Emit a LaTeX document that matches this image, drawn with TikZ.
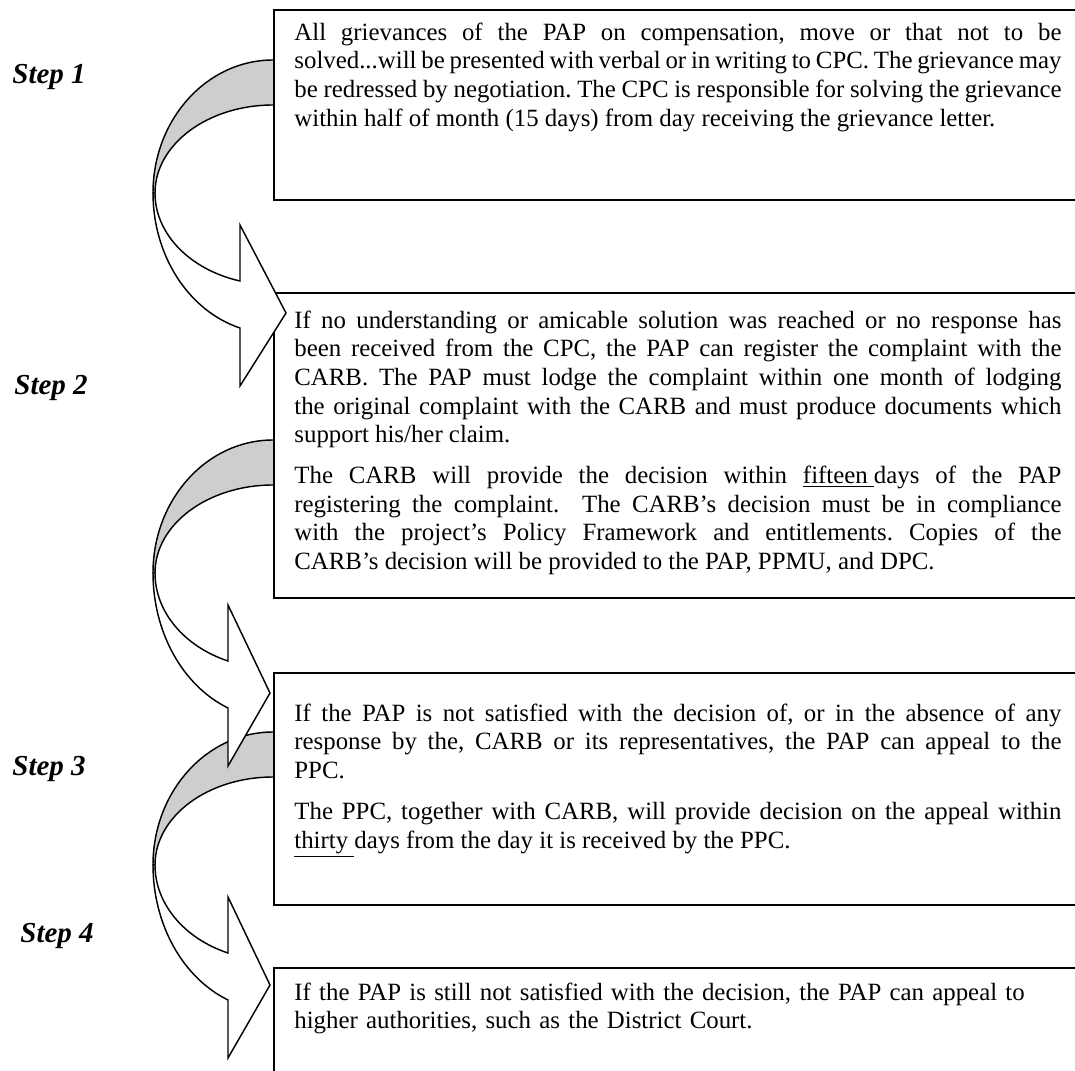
\documentclass[tikz,border=0pt]{standalone}
\usepackage{fontspec}
\setmainfont{Liberation Serif}
\definecolor{backgray}{RGB}{206,206,206}
\frenchspacing
% curved arrow: #1 = y of left turning point, #2 = x of head back, #3 = x of tip
\newcommand{\bentarrow}[3]{%
  \pgfmathsetmacro\outang{360-acos((#2-273)/120)}%
  \pgfmathsetmacro\outrad{135/sin(acos((#2-273)/120))}%
  \pgfmathsetmacro\inang{360-acos((#2-273)/118)}%
  \pgfmathsetmacro\inrad{88/sin(acos((#2-273)/118))}%
  \filldraw[backface] (300,-#1+133) -- (273,-#1+133)
    arc[start angle=90,end angle=180,x radius=120,y radius=133] -- (155,-#1)
    arc[start angle=180,end angle=90,x radius=118,y radius=88] -- (300,-#1+88) -- cycle;
  \filldraw[frontface] (153,-#1)
    arc[start angle=180,end angle=\outang,x radius=120,y radius=\outrad]
    -- (#2,-#1-193) -- (#3,-#1-120) -- (#2,-#1-32) -- (#2,-#1-88)
    arc[start angle=\inang,end angle=180,x radius=118,y radius=\inrad] -- cycle;
}
\tikzset{
  boxline/.style={draw,fill=white,line width=0.8pt},
  backface/.style={draw,fill=backgray,line width=0.7pt},
  frontface/.style={draw,fill=white,line width=0.7pt},
  boxtext/.style={anchor=north west,inner sep=0pt,text width=370.5pt,align=justify,
    font=\fontsize{12}{13.8}\selectfont\sloppy},
  steplabel/.style={anchor=base west,inner sep=0pt,font=\fontsize{14}{16}\selectfont\bfseries\itshape}
}

\begin{document}
\begin{tikzpicture}[x=0.483pt,y=0.483pt]
  \useasboundingbox (0,0) rectangle (1075,-1071);
  \clip (0,0) rectangle (1075,-1071);
  % boxes and arrows, back to front
  \draw[boxline] (274,-968) rectangle (1090,-1090);
  \bentarrow{865}{228}{270}
  \draw[boxline] (274,-673) rectangle (1090,-905);
  \bentarrow{573}{228}{270}
  \draw[boxline] (274,-293) rectangle (1090,-598);
  \bentarrow{193}{240}{286}
  \draw[boxline] (274,-10) rectangle (1090,-200);
  % texts
  \node[boxtext] (txt1) at (294,-20) {\strut All grievances of the PAP on compensation, move or that not to be\linebreak
    solved...will be presented with verbal or in writing to CPC. The grievance may\linebreak
    be redressed by negotiation. The CPC is responsible for solving the grievance\linebreak
    within half of month (15 days) from day receiving the grievance letter.};
  \node[boxtext] (txt2) at (294,-308) {\strut If no understanding or amicable solution was reached or no response has\linebreak
    been received from the CPC, the PAP can register the complaint with the\linebreak
    CARB. The PAP must lodge the complaint within one month of lodging\linebreak
    the original complaint with the CARB and must produce documents which\linebreak
    support his/her claim.\par\vspace{6pt}
    The CARB will provide the decision within \underline{fifteen\ }days of the PAP\linebreak
    registering the complaint.\ \ The CARB’s decision must be in compliance\linebreak
    with the project’s Policy Framework and entitlements. Copies of the\linebreak
    CARB’s decision will be provided to the PAP, PPMU, and DPC.};
  \node[boxtext] (txt3) at (294,-701) {\strut If the PAP is not satisfied with the decision of, or in the absence of any\linebreak
    response by the, CARB or its representatives, the PAP can appeal to the\linebreak
    PPC.\par\vspace{6pt}
    The PPC, together with CARB, will provide decision on the appeal within\linebreak
    \underline{thirty\ }days from the day it is received by the PPC.};
  \node[boxtext,align=left] (txt4) at (294,-980) {\strut If the PAP is still not satisfied with the decision, the PAP can appeal to\\
    higher authorities, such as the District Court.};
  % step labels
  \node[steplabel] (step1) at (12,-84) {Step 1};
  \node[steplabel] (step2) at (14,-395) {Step 2};
  \node[steplabel] (step3) at (12,-775) {Step 3};
  \node[steplabel] (step4) at (20,-942) {Step 4};
\end{tikzpicture}
\end{document}
